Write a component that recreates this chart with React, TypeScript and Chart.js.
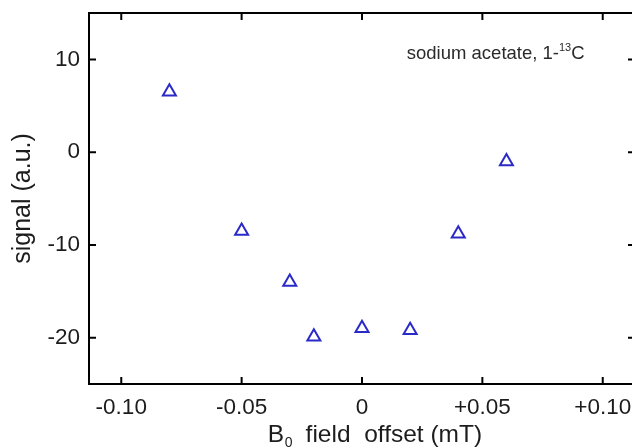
import React, { useEffect, useRef } from "react";
import { Chart, registerables } from "chart.js";

Chart.register(...registerables);

// ---- data ----
const fieldOffset = [-0.08, -0.05, -0.03, -0.02, 0, 0.02, 0.04, 0.06];
const signal = [6.5, -8.5, -14.0, -19.9, -19.0, -19.2, -8.8, -1.0];

const xTicks = [-0.1, -0.05, 0, 0.05, 0.1];
const xTickLabels = ["-0.10", "-0.05", "0", "+0.05", "+0.10"];
const yTicks = [-20, -10, 0, 10];
const yTickLabels = ["-20", "-10", "0", "10"];

const xRange = [-0.1134, 0.1134];
const yRange = [-25, 15];

const yTitle = "signal (a.u.)";
const xTitleParts = ["B", "0", "  field  offset (mT)"];
const noteParts = ["sodium acetate, 1-", "13", "C"];
const notePos = { x: 0.0186, y: 10 };

const FONT = "'Liberation Sans', Arial, Helvetica, sans-serif";
const TEXT = "#1c1c1c";
const BLUE = "#2a2ac8";

const framePlugin = {
  id: "frame",
  beforeDatasetsDraw(chart: any) {
    const { ctx, chartArea: a, scales } = chart;
    const x = scales.x;
    const y = scales.y;
    ctx.save();
    ctx.strokeStyle = "#000";
    ctx.lineWidth = 2;
    ctx.strokeRect(a.left, a.top, a.right - a.left, a.bottom - a.top);
    const L = 7;
    ctx.beginPath();
    xTicks.forEach((v) => {
      const px = x.getPixelForValue(v);
      ctx.moveTo(px, a.bottom);
      ctx.lineTo(px, a.bottom - L);
      ctx.moveTo(px, a.top);
      ctx.lineTo(px, a.top + L);
    });
    yTicks.forEach((v) => {
      const py = y.getPixelForValue(v);
      ctx.moveTo(a.left, py);
      ctx.lineTo(a.left + L, py);
      ctx.moveTo(a.right, py);
      ctx.lineTo(a.right - L, py);
    });
    ctx.stroke();
    ctx.restore();
  },
  afterDraw(chart: any) {
    const { ctx, chartArea: a, scales } = chart;
    const x = scales.x;
    const y = scales.y;
    ctx.save();
    ctx.fillStyle = TEXT;
    ctx.textBaseline = "alphabetic";
    ctx.textAlign = "left";

    // x-axis title with subscript
    const big = `24.5px ${FONT}`;
    const small = `14px ${FONT}`;
    ctx.font = big;
    const w0 = ctx.measureText(xTitleParts[0]).width;
    const w2 = ctx.measureText(xTitleParts[2]).width;
    ctx.font = small;
    const w1 = ctx.measureText(xTitleParts[1]).width;
    const total = w0 + w1 + w2;
    const cx = (a.left + a.right) / 2 + 13;
    let sx = cx - total / 2;
    const base = chart.height - 6;
    ctx.font = big;
    ctx.fillText(xTitleParts[0], sx, base);
    sx += w0;
    ctx.font = small;
    ctx.fillText(xTitleParts[1], sx + 0.5, base + 5);
    sx += w1;
    ctx.font = big;
    ctx.fillText(xTitleParts[2], sx, base);

    // annotation with superscript
    const nx = x.getPixelForValue(notePos.x);
    const ny = y.getPixelForValue(notePos.y);
    const nf = `18.5px ${FONT}`;
    const nsf = `11px ${FONT}`;
    ctx.fillStyle = "#2a2a2a";
    ctx.font = nf;
    ctx.fillText(noteParts[0], nx, ny);
    let ax = nx + ctx.measureText(noteParts[0]).width;
    ctx.font = nsf;
    ctx.fillText(noteParts[1], ax, ny - 8);
    ax += ctx.measureText(noteParts[1]).width;
    ctx.font = nf;
    ctx.fillText(noteParts[2], ax, ny);
    ctx.restore();
  },
};

export default function App() {
  const ref = useRef<HTMLCanvasElement>(null);

  useEffect(() => {
    if (!ref.current) return;
    const chart = new Chart(ref.current, {
      type: "scatter",
      data: {
        datasets: [
          {
            data: fieldOffset.map((v, i) => ({ x: v, y: signal[i] })),
            pointStyle: "triangle",
            pointRadius: 7.5,
            pointHoverRadius: 7.5,
            borderColor: BLUE,
            backgroundColor: "rgba(0,0,0,0)",
            pointBorderWidth: 2,
            borderWidth: 2,
          },
        ],
      },
      options: {
        responsive: false,
        animation: false,
        devicePixelRatio: 1,
        layout: { autoPadding: false, padding: { left: 0, top: 13, right: 5, bottom: 0 } },
        plugins: {
          legend: { display: false },
          tooltip: { enabled: false },
        },
        scales: {
          x: {
            type: "linear",
            min: xRange[0],
            max: xRange[1],
            grid: { display: false, drawTicks: false },
            border: { display: false },
            afterBuildTicks: (s: any) => {
              s.ticks = xTicks.map((v) => ({ value: v }));
            },
            afterFit: (s: any) => {
              s.height = 64;
              s.paddingLeft = 0;
              s.paddingRight = 0;
            },
            ticks: {
              font: { family: FONT, size: 22.5 },
              color: TEXT,
              padding: 10,
              maxRotation: 0,
              autoSkip: false,
              callback: (v: any) => {
                const i = xTicks.findIndex((t) => Math.abs(t - v) < 1e-9);
                return i >= 0 ? xTickLabels[i] : "";
              },
            },
          },
          y: {
            type: "linear",
            min: yRange[0],
            max: yRange[1],
            grid: { display: false, drawTicks: false },
            border: { display: false },
            afterBuildTicks: (s: any) => {
              s.ticks = yTicks.map((v) => ({ value: v }));
            },
            afterFit: (s: any) => {
              s.width = 89;
              s.paddingTop = 0;
              s.paddingBottom = 0;
            },
            title: {
              display: true,
              text: yTitle,
              font: { family: FONT, size: 25 },
              color: TEXT,
              padding: { top: 8, bottom: 0 },
            },
            ticks: {
              font: { family: FONT, size: 22.5 },
              color: TEXT,
              padding: 9,
              autoSkip: false,
              callback: (v: any) => {
                const i = yTicks.findIndex((t) => Math.abs(t - v) < 1e-9);
                return i >= 0 ? yTickLabels[i] : "";
              },
            },
          },
        },
      },
      plugins: [framePlugin],
    });
    return () => chart.destroy();
  }, []);

  return (
    <div
      style={{
        position: "fixed",
        left: 0,
        top: 0,
        width: 632,
        height: 448,
        overflow: "hidden",
        background: "#fff",
      }}
    >
      <canvas ref={ref} width={640} height={448} style={{ display: "block", width: 640, height: 448 }} />
    </div>
  );
}
